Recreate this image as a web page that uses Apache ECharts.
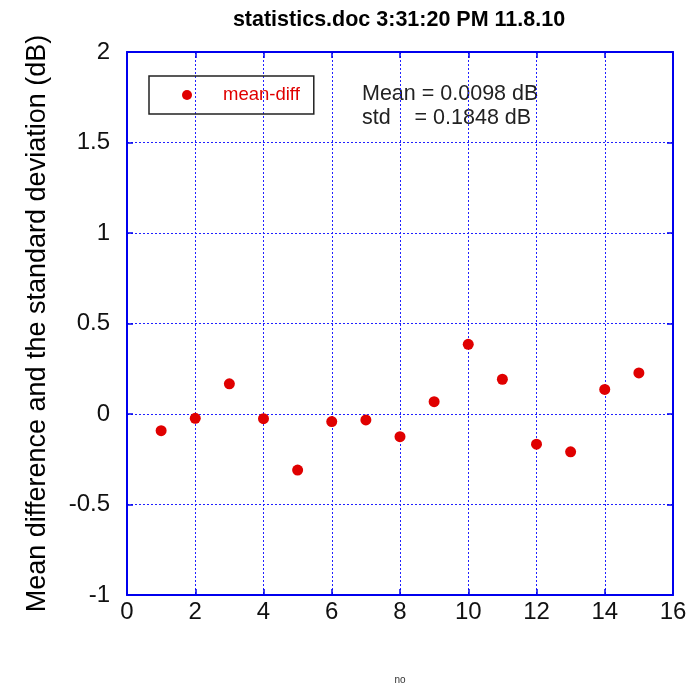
<!DOCTYPE html>
<html><head><meta charset="utf-8">
<script src="https://cdn.jsdelivr.net/npm/echarts@6/dist/echarts.min.js"></script>
<style>html,body{margin:0;padding:0;background:#fff}#c{width:698px;height:690px}</style>
</head><body><div id="c"></div>
<script>
const xValues = [1,2,3,4,5,6,7,8,9,10,11,12,13,14,15];
const meanDiff = [-0.092,-0.024,0.167,-0.026,-0.31,-0.042,-0.033,-0.125,0.068,0.385,0.192,-0.167,-0.209,0.136,0.227];
const titleText = 'statistics.doc 3:31:20 PM 11.8.10';
const yName = 'Mean difference and the standard deviation (dB)';
const xName = 'no';
const statLines = ['Mean = 0.0098 dB', 'std    = 0.1848 dB'];

const blue = '#0000ee';
const gridBlue = '#2020ff';
const font = 'Liberation Sans, Arial, sans-serif';
const chart = echarts.init(document.getElementById('c'));
function axisCommon() {
  return {
    axisLine: {show: true, onZero: false, lineStyle: {color: blue, width: 2}},
    axisTick: {show: true, inside: true, length: 6, lineStyle: {color: blue, width: 1.5}},
    minorTick: {show: false}, minorSplitLine: {show: false}, splitArea: {show: false}
  };
}
chart.setOption({
  animation: false,
  backgroundColor: '#fff',
  title: {text: titleText, left: 394, top: 4, textAlign: 'center',
    textStyle: {fontFamily: font, fontSize: 21.5, fontWeight: 'bold', color: '#000'}},
  grid: {left: 127, right: 25, top: 52, bottom: 92},
  legend: {left: 149, top: 76, orient: 'horizontal', borderColor: '#222', borderWidth: 1.5,
    padding: [9, 14, 9, 33], itemWidth: 10, itemHeight: 10, icon: 'circle',
    itemStyle: {opacity: 1},
    textStyle: {fontFamily: font, fontSize: 18.5, lineHeight: 20, color: '#e00000', padding: [0, 0, 0, 26]},
    data: ['mean-diff']},
  xAxis: [
    Object.assign(axisCommon(), {type: 'value', min: 0, max: 16, interval: 2, position: 'bottom',
      name: xName, nameLocation: 'middle', nameGap: 80,
      nameTextStyle: {fontFamily: font, fontSize: 10, color: '#333'},
      axisLabel: {fontFamily: font, fontSize: 24, color: '#111', margin: 5},
      splitLine: {show: true, lineStyle: {color: gridBlue, type: [2, 2], width: 1}}}),
    Object.assign(axisCommon(), {type: 'value', min: 0, max: 16, interval: 2, position: 'top',
      axisLabel: {show: false}, splitLine: {show: false}})
  ],
  yAxis: [
    Object.assign(axisCommon(), {type: 'value', min: -1, max: 2, interval: 0.5, position: 'left',
      name: yName, nameLocation: 'middle', nameGap: 76, nameRotate: 90,
      nameTextStyle: {fontFamily: font, fontSize: 27, color: '#000'},
      axisLabel: {fontFamily: font, fontSize: 24, color: '#111', margin: 17},
      splitLine: {show: true, lineStyle: {color: gridBlue, type: [2, 2], width: 1}}}),
    Object.assign(axisCommon(), {type: 'value', min: -1, max: 2, interval: 0.5, position: 'right',
      axisLabel: {show: false}, splitLine: {show: false}})
  ],
  graphic: [
    {type: 'text', left: 362, top: 83, style: {text: statLines[0], font: '21.5px ' + font, fill: '#222'}},
    {type: 'text', left: 362, top: 107, style: {text: statLines[1], font: '21.5px ' + font, fill: '#222'}}
  ],
  series: [{
    name: 'mean-diff', type: 'scatter', symbol: 'circle', symbolSize: 11,
    itemStyle: {color: '#e00000', opacity: 1},
    data: xValues.map((x, i) => [x, meanDiff[i]])
  }]
});
</script></body></html>
